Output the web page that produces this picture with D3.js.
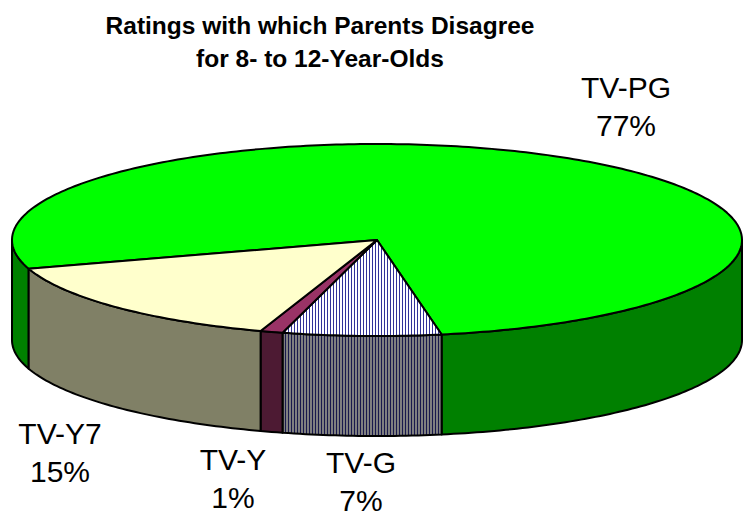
<!DOCTYPE html>
<head>
  <meta charset="utf-8" />
  <title>Ratings pie</title>
  <style>
    body { margin: 0; background: #fff; }
    text { font-family: Arial, "Liberation Sans", sans-serif; }
  </style>
</head>
<body>
  <script src="https://cdn.jsdelivr.net/npm/d3@7"></script>
  <script>
    // data, clockwise from the back-left edge of the pie
    var categories = ["TV-PG", "TV-G", "TV-Y", "TV-Y7"];
    var values = [77, 7, 1, 15];
    var labels = ["77%", "7%", "1%", "15%"];
    var topColors = ["#00ff00", "url(#stripeTop)", "#993366", "#ffffcc"];
    var sideColors = ["#008000", "url(#stripeSide)", "#4d1a33", "#808066"];

    var width = 743, height = 516;
    var cx = 377, cy = 240, rx = 365, ry = 96, depth = 100;
    var rot = 252.6; // start angle of first slice, degrees from 12 o'clock

    var svg = d3.select("body").append("svg")
      .attr("width", width).attr("height", height);

    var defs = svg.append("defs");
    var p1 = defs.append("pattern").attr("id", "stripeTop")
      .attr("patternUnits", "userSpaceOnUse").attr("width", 3).attr("height", 10);
    p1.append("rect").attr("width", 3).attr("height", 10).attr("fill", "#fff");
    p1.append("rect").attr("width", 1).attr("height", 10).attr("fill", "#333399");
    var p2 = defs.append("pattern").attr("id", "stripeSide")
      .attr("patternUnits", "userSpaceOnUse").attr("width", 3).attr("height", 10);
    p2.append("rect").attr("width", 3).attr("height", 10).attr("fill", "#808080");
    p2.append("rect").attr("width", 1).attr("height", 10).attr("fill", "#1a1a4d");

    var pie = d3.pie().sort(null)
      .startAngle(rot * Math.PI / 180)
      .endAngle(rot * Math.PI / 180 + 2 * Math.PI);
    var arcs = pie(values);

    // d3 angle -> screen point on the ellipse
    function pt(a, dy) {
      var t = a - Math.PI / 2;
      return [cx + rx * Math.cos(t), cy + ry * Math.sin(t) + (dy || 0)];
    }
    var line = d3.line();

    // side walls (front half only: screen angle 0..pi => d3 angle pi/2..3pi/2)
    var sides = svg.append("g");
    arcs.forEach(function (d, i) {
      for (var k = -1; k <= 2; k++) {
        var lo = Math.PI / 2 + 2 * Math.PI * k, hi = lo + Math.PI;
        var a0 = Math.max(d.startAngle, lo), a1 = Math.min(d.endAngle, hi);
        if (a1 <= a0) continue;
        var n = Math.max(2, Math.ceil((a1 - a0) * 60)), pts = [], j;
        for (j = 0; j <= n; j++) pts.push(pt(a0 + (a1 - a0) * j / n));
        for (j = n; j >= 0; j--) pts.push(pt(a0 + (a1 - a0) * j / n, depth));
        sides.append("path")
          .attr("d", line(pts) + "Z")
          .attr("fill", sideColors[i])
          .attr("stroke", "#000").attr("stroke-width", 2)
          .attr("stroke-linejoin", "round");
      }
    });

    // top face
    var tops = svg.append("g");
    arcs.forEach(function (d, i) {
      var n = Math.max(2, Math.ceil((d.endAngle - d.startAngle) * 60)), pts = [[cx, cy]];
      for (var j = 0; j <= n; j++) pts.push(pt(d.startAngle + (d.endAngle - d.startAngle) * j / n));
      tops.append("path")
        .attr("d", line(pts) + "Z")
        .attr("fill", topColors[i])
        .attr("stroke", "#000").attr("stroke-width", 2)
        .attr("stroke-linejoin", "round");
    });

    // labels
    var labelPos = [[626, 98], [361, 473], [233, 470], [60, 444]];
    arcs.forEach(function (d, i) {
      var g = svg.append("text")
        .attr("text-anchor", "middle")
        .attr("font-size", 30)
        .attr("fill", "#000");
      g.append("tspan").attr("x", labelPos[i][0]).attr("y", labelPos[i][1]).text(categories[i]);
      g.append("tspan").attr("x", labelPos[i][0]).attr("y", labelPos[i][1] + 38).text(labels[i]);
    });

    // title
    var title = svg.append("text")
      .attr("text-anchor", "middle")
      .attr("font-size", 24.5)
      .attr("font-weight", "bold");
    title.append("tspan").attr("x", 320).attr("y", 34).text("Ratings with which Parents Disagree");
    title.append("tspan").attr("x", 320).attr("y", 67).text("for 8- to 12-Year-Olds");
  </script>
</body>
